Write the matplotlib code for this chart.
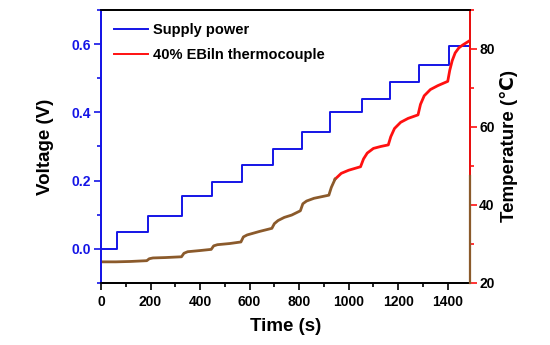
import numpy as np
import matplotlib.pyplot as plt
from matplotlib.ticker import MultipleLocator

plt.rcParams['font.family'] = ['Liberation Sans', 'DejaVu Sans']
plt.rcParams['font.weight'] = 'bold'

# supply power steps (time in s, voltage in V)
step_t = [0, 63, 189, 328, 447, 568, 695, 812, 925, 1053, 1165, 1285, 1406, 1490]
step_v = [0.0, 0.05, 0.097, 0.154, 0.195, 0.245, 0.292, 0.343, 0.4, 0.44, 0.49, 0.538, 0.595, 0.595]

# thermocouple reading (time in s, temperature in C)
temp_t = [0, 60, 120, 185, 195, 210, 260, 325, 335, 350, 400, 445, 455, 470, 520, 565,
          575, 590, 640, 690, 700, 715, 740, 770, 805, 815, 830, 860, 920, 930, 945, 970,
          1000, 1048, 1060, 1075, 1100, 1130, 1160, 1170, 1185, 1210, 1240, 1280, 1290,
          1305, 1330, 1360, 1400, 1408, 1418, 1430, 1445, 1460, 1475, 1490]
temp_c = [25.4, 25.4, 25.5, 25.7, 26.2, 26.4, 26.5, 26.7, 27.6, 28.0, 28.3, 28.6, 29.5,
          29.8, 30.1, 30.5, 31.8, 32.3, 33.2, 34.0, 35.2, 36.0, 36.8, 37.4, 38.5, 40.3,
          41.0, 41.7, 42.5, 44.5, 46.6, 48.1, 48.9, 49.8, 51.8, 53.3, 54.5, 55.0, 55.4,
          57.5, 59.6, 61.2, 62.2, 63.1, 65.8, 68.0, 69.6, 70.6, 71.7, 74.5, 77.0, 79.0,
          80.3, 81.0, 81.6, 82.2]

blue = '#1414e6'
red = '#ff1010'
brown = '#8b5a2b'

fig = plt.figure(figsize=(5.5, 3.45), dpi=100)
ax = fig.add_axes([0.1836, 0.180, 0.671, 0.791])
ax2 = ax.twinx()

ax.step(step_t, step_v, where='post', color=blue, lw=1.4)
# the lower part of the thermocouple trace appears brownish in the original
split = 31
ax2.plot(temp_t[split - 1:], temp_c[split - 1:], color=red, lw=2.0)
ax2.plot(temp_t[:split], temp_c[:split], color=brown, lw=2.0)

h1, = ax.plot([], [], color=blue, lw=1.4, label='Supply power')
h2, = ax.plot([], [], color=red, lw=1.4, label='40% EBiln thermocouple')
ax.legend(loc='upper left', frameon=False, prop={'weight': 'bold', 'size': 10.5},
          handlelength=2.3, handletextpad=0.4, labelspacing=0.75,
          borderaxespad=0.5, bbox_to_anchor=(0.0, 1.0))

ax.set_xlim(0, 1490)
ax.set_ylim(-0.1, 0.7)
ax2.set_ylim(20, 90)

ax.xaxis.set_major_locator(MultipleLocator(200))
ax.xaxis.set_minor_locator(MultipleLocator(100))
ax.yaxis.set_major_locator(MultipleLocator(0.2))
ax.yaxis.set_minor_locator(MultipleLocator(0.1))
ax2.yaxis.set_major_locator(MultipleLocator(20))
ax2.yaxis.set_minor_locator(MultipleLocator(10))

ax.tick_params(axis='both', which='both', direction='out', width=1.2, labelsize=10)
ax.tick_params(which='major', length=5)
ax.tick_params(which='minor', length=3)
ax.tick_params(axis='y', which='both', colors=blue, pad=2)
ax2.tick_params(axis='y', which='both', direction='out', width=1.2, labelsize=10,
                colors=red, labelcolor='black', pad=1.5)
ax2.tick_params(which='major', length=5)
ax2.tick_params(which='minor', length=3)

for lab in ax.get_xticklabels() + ax.get_yticklabels() + ax2.get_yticklabels():
    lab.set_fontweight('bold')

for s in ax.spines.values():
    s.set_linewidth(1.3)
for s in ax2.spines.values():
    s.set_linewidth(1.3)
ax.spines['left'].set_color(blue)
ax2.spines['left'].set_color(blue)
ax2.spines['right'].set_color(red)

# brownish lower part of the right spine
ax2.plot([1, 1], [20, 47.5], color=brown, lw=1.6,
         transform=ax2.get_yaxis_transform(), clip_on=False, zorder=5)

ax.set_xlabel('Time (s)', fontsize=13.5, fontweight='bold', labelpad=7)
ax.set_ylabel('Voltage (V)', fontsize=13.5, fontweight='bold', labelpad=13)
ax2.set_ylabel('Temperature (\u2103)', fontsize=13.5, fontweight='bold', labelpad=4)

fig.savefig('out.png', dpi=100)
